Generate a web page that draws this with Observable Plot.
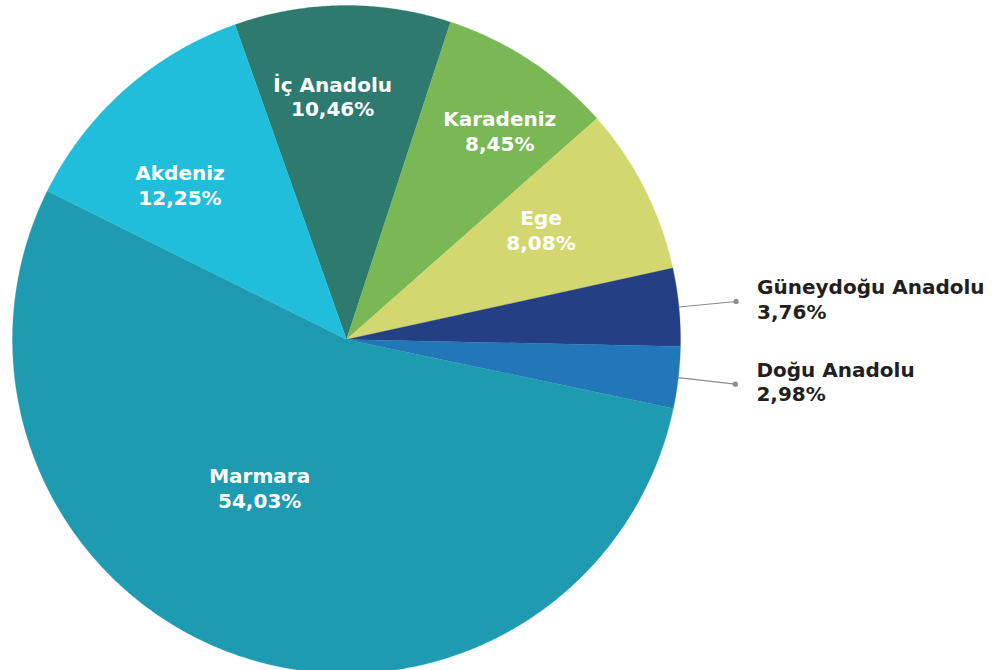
<!DOCTYPE html>
<html>
<head>
<meta charset="utf-8">
<script src="https://cdn.jsdelivr.net/npm/d3@7"></script>
<script src="https://cdn.jsdelivr.net/npm/@observablehq/plot@0.6"></script>
<style>
  html, body { margin: 0; padding: 0; background: #ffffff; overflow: hidden; }
  #chart svg { display: block; }
</style>
</head>
<body>
<div id="chart"></div>
<script>
// ---- data ----
const regions = ["İç Anadolu", "Karadeniz", "Ege", "Güneydoğu Anadolu", "Doğu Anadolu", "Marmara", "Akdeniz"];
const shares  = [10.46, 8.45, 8.08, 3.76, 2.98, 54.03, 12.25];
const colors  = ["#2e7a6e", "#79b855", "#d2d86f", "#253f84", "#2277b8", "#1e9ab1", "#21bedb"];

// ---- layout ----
const startAngle = -19.5;           // degrees, clockwise from 12 o'clock
const outsideThreshold = 5;          // slices below this % get external labels
const R = 334;                       // pixel radius (for nudges)
const labelNudge = {                 // small pixel tweaks of inner labels
  "İç Anadolu": [-11, -3], "Karadeniz": [21, -8], "Ege": [-20, -1],
  "Akdeniz": [-7, 25], "Marmara": [-32, -10]
};
const fmt = v => v.toFixed(2).replace(".", ",") + "%";
const rad = a => a * Math.PI / 180;

const total = d3.sum(shares);
let acc = startAngle;
const slices = regions.map((name, i) => {
  const a0 = acc, a1 = acc + shares[i] / total * 360;
  acc = a1;
  return {name, share: shares[i], a0, a1, mid: (a0 + a1) / 2};
});

// polygon points for each slice
const pts = [];
for (const s of slices) {
  pts.push({name: s.name, x: 0, y: 0});
  const n = Math.max(2, Math.ceil((s.a1 - s.a0) / 0.4));
  for (let k = 0; k <= n; k++) {
    const a = rad(s.a0 + (s.a1 - s.a0) * k / n);
    pts.push({name: s.name, x: Math.sin(a), y: Math.cos(a)});
  }
  pts.push({name: s.name, x: 0, y: 0});
}

const inner = slices.filter(s => s.share >= outsideThreshold).map(s => {
  const r = s.share > 50 ? 0.5 : 0.72;
  const [nx, ny] = labelNudge[s.name] || [0, 0];
  return {
    text: s.name + "\n" + fmt(s.share),
    x: r * Math.sin(rad(s.mid)) + nx / R,
    y: r * Math.cos(rad(s.mid)) - ny / R
  };
});
const outer = slices.filter(s => s.share < outsideThreshold).map(s => ({
  text: s.name + "\n" + fmt(s.share),
  x1: Math.sin(rad(s.mid)), y1: Math.cos(rad(s.mid)),
  x2: 1.172 * Math.sin(rad(s.mid)), y2: 1.172 * Math.cos(rad(s.mid))
}));

const font = "'DejaVu Sans', sans-serif";

const chart = Plot.plot({
  width: 1000,
  height: 670,
  margin: 0,
  style: {fontFamily: font, background: "#ffffff"},
  x: {domain: [-1, 1], range: [12, 680], axis: null},
  y: {domain: [-1, 1], range: [673, 5], axis: null},
  color: {domain: regions, range: colors},
  marks: [
    Plot.line(pts, {x: "x", y: "y", z: "name", fill: "name", stroke: "name", strokeWidth: 0.3, curve: "linear"}),
    Plot.link(outer, {x1: "x1", y1: "y1", x2: "x2", y2: "y2", stroke: "#8c8c8c", strokeWidth: 1.1}),
    Plot.dot(outer, {x: "x2", y: "y2", r: 2.6, fill: "#8c8c8c"}),
    Plot.text(inner, {x: "x", y: "y", text: "text", fill: "#ffffff", fontSize: 20, fontWeight: 700, lineHeight: 1.24, fontFamily: font}),
    Plot.text(outer, {x: "x2", y: "y2", text: "text", fill: "#231f20", fontSize: 20, fontWeight: 700, lineHeight: 1.24, textAnchor: "start", dx: 21, dy: -3, fontFamily: font})
  ]
});
document.getElementById("chart").appendChild(chart);
</script>
</body>
</html>
